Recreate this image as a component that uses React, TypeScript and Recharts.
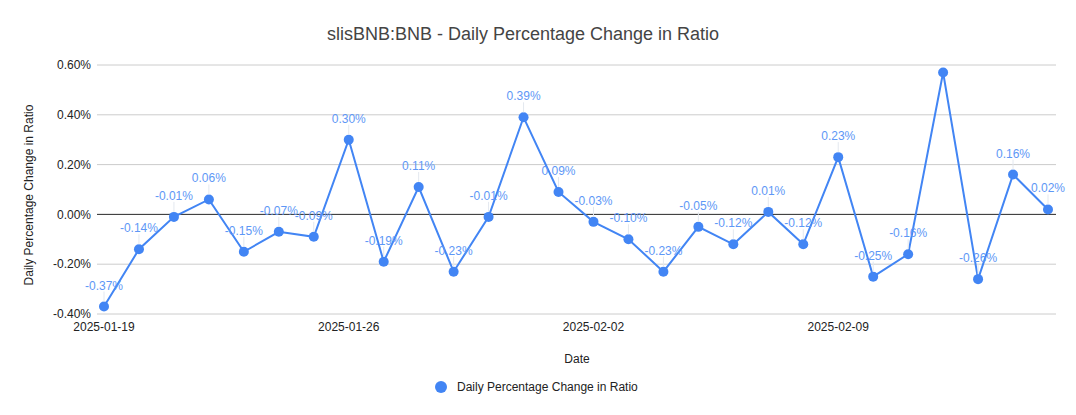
import { LineChart, Line, XAxis, YAxis, CartesianGrid, ReferenceLine, LabelList } from "recharts";

const dates = [
  "2025-01-19", "2025-01-20", "2025-01-21", "2025-01-22", "2025-01-23", "2025-01-24", "2025-01-25",
  "2025-01-26", "2025-01-27", "2025-01-28", "2025-01-29", "2025-01-30", "2025-01-31", "2025-02-01",
  "2025-02-02", "2025-02-03", "2025-02-04", "2025-02-05", "2025-02-06", "2025-02-07", "2025-02-08",
  "2025-02-09", "2025-02-10", "2025-02-11", "2025-02-12", "2025-02-13", "2025-02-14", "2025-02-15",
];

// daily change, in percent
const changes = [
  -0.37, -0.14, -0.01, 0.06, -0.15, -0.07, -0.09,
  0.3, -0.19, 0.11, -0.23, -0.01, 0.39, 0.09,
  -0.03, -0.1, -0.23, -0.05, -0.12, 0.01, -0.12,
  0.23, -0.25, -0.16, 0.57, -0.26, 0.16, 0.02,
];

// the source chart leaves this one point unlabelled
const unlabelled = ["2025-02-12"];

const yTicks = [-0.4, -0.2, 0, 0.2, 0.4, 0.6];

const BLUE = "#4285F4";
const FONT = "Arial, 'Liberation Sans', sans-serif";

const data = dates.map((date, i) => ({ date, change: changes[i] }));

const fmt = (v: number) => `${v.toFixed(2)}%`;

function PointLabel(props: any) {
  const { index, value } = props;
  const x = props.x ?? props.viewBox?.x;
  const y = props.y ?? props.viewBox?.y;
  if (x == null || y == null) return null;
  if (unlabelled.includes(dates[index])) return null;
  return (
    <g>
      <line x1={x} y1={y - 5} x2={x} y2={y - 15} stroke="#e3e8ef" strokeWidth={1} />
      <text
        x={x}
        y={y - 21}
        textAnchor="middle"
        dominantBaseline="central"
        fontSize={12}
        fontFamily={FONT}
        fill="#5e97f6"
      >
        {fmt(value)}
      </text>
    </g>
  );
}

export default function App() {
  return (
    <div style={{ position: "absolute", top: 0, left: 0, width: 1076, height: 415, background: "#fff", fontFamily: FONT }}>
      <LineChart width={1076} height={415} data={data} margin={{ top: 65, right: 20, bottom: 0, left: 0 }}>
        <CartesianGrid vertical={false} stroke="#cccccc" />
        <XAxis
          dataKey="date"
          interval={6}
          height={101}
          padding={{ left: 7, right: 8 }}
          axisLine={false}
          tickLine={false}
          tick={{ fontSize: 12, fill: "#222", fontFamily: FONT }}
        />
        <YAxis
          width={97}
          domain={[-0.4, 0.6]}
          ticks={yTicks}
          tickFormatter={fmt}
          axisLine={false}
          tickLine={false}
          tickSize={4}
          tick={{ fontSize: 12, fill: "#222", fontFamily: FONT }}
        />
        <ReferenceLine y={0} stroke="#333" strokeWidth={1} />
        <Line
          type="linear"
          dataKey="change"
          stroke={BLUE}
          strokeWidth={2}
          dot={{ r: 5, fill: BLUE, stroke: BLUE, strokeWidth: 0 }}
          activeDot={false}
          isAnimationActive={false}
        >
          <LabelList dataKey="change" content={PointLabel} />
        </Line>
      </LineChart>

      <div style={{ position: "absolute", left: 0, width: 1046, top: 24, textAlign: "center", fontSize: 18, color: "#444", whiteSpace: "nowrap" }}>
        slisBNB:BNB - Daily Percentage Change in Ratio
      </div>
      <div
        style={{
          position: "absolute",
          left: 29,
          top: 195,
          transform: "translate(-50%, -50%) rotate(-90deg)",
          fontSize: 12,
          color: "#222",
          whiteSpace: "nowrap",
        }}
      >
        Daily Percentage Change in Ratio
      </div>
      <div style={{ position: "absolute", left: 577, top: 359, transform: "translate(-50%, -50%)", fontSize: 12, color: "#222" }}>
        Date
      </div>
      <div style={{ position: "absolute", left: 435, top: 380, display: "flex", alignItems: "center", height: 14 }}>
        <span style={{ width: 12, height: 12, borderRadius: 6, background: BLUE, display: "inline-block" }} />
        <span style={{ marginLeft: 10, fontSize: 12, color: "#222", whiteSpace: "nowrap" }}>Daily Percentage Change in Ratio</span>
      </div>
    </div>
  );
}
